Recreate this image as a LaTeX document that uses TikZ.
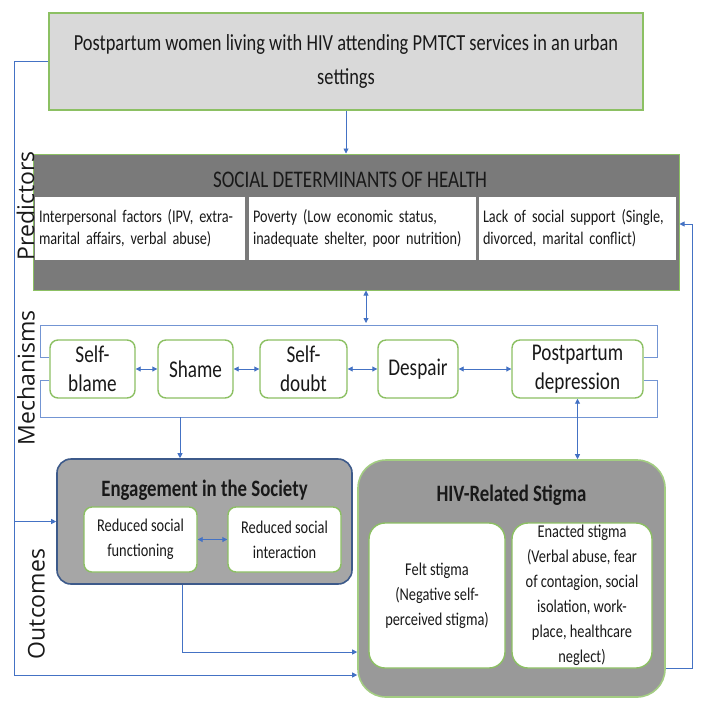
\documentclass[tikz,border=0pt]{standalone}
\usepackage{fontspec}
\setmainfont{Carlito}[FakeStretch=0.8]
\newfontfamily\sidefont{Open Sans}
\usetikzlibrary{arrows.meta}
\definecolor{leafgreen}{HTML}{8CC063}
\definecolor{linkblue}{HTML}{4472C4}
\definecolor{navyedge}{HTML}{3D5A8A}
\tikzset{
  every node/.style={inner sep=0pt, text=black!90},
  popbox/.style={draw=leafgreen, line width=1.6pt, fill=black!15, minimum width=594pt, minimum height=97pt, align=center, font=\fontsize{23}{34}\selectfont},
  sdhbox/.style={draw=leafgreen, line width=1pt, fill=black!52, minimum width=646pt, minimum height=136pt},
  factor/.style={fill=white, inner xsep=4pt, minimum height=63pt, align=left, font=\fontsize{17.8}{22}\selectfont},
  mech/.style={draw=leafgreen, line width=1.4pt, fill=white, rounded corners=8pt, minimum height=58pt, align=center, font=\fontsize{24}{29}\selectfont},
  outbox/.style={line width=1.6pt},
  subbox/.style={draw=leafgreen, line width=1.4pt, fill=white, align=center, font=\fontsize{18}{25}\selectfont},
  heading/.style={font=\bfseries\fontsize{23.5}{28}\selectfont},
  sidelabel/.style={rotate=90, font=\sidefont\fontsize{23}{23}\selectfont},
  link/.style={draw=linkblue, line width=0.9pt, ->},
  dlink/.style={draw=linkblue, line width=0.9pt, <->},
  rail/.style={draw=linkblue!75, line width=0.9pt}
}
\begin{document}
\begin{tikzpicture}[x=1pt, y=-1pt, >={Triangle[length=5pt, width=5pt]}]
  \useasboundingbox (0,0) rectangle (708,705);
  \node[popbox] (pop) at (346,61.5) {Postpartum women living with HIV attending PMTCT services in an urban\\settings};
  \node[sdhbox] (sdh) at (356,222) {};
  \node[font=\fontsize{23.8}{28}\selectfont] (sdhtitle) at (350,179.5) {SOCIAL DETERMINANTS OF HEALTH};
  \node[factor, text width=202pt] (ipf) at (140,228.5) {Interpersonal factors (IPV, extra-\\marital affairs, verbal abuse)};
  \node[factor, text width=219pt] (pov) at (362.5,228.5) {Poverty (Low economic status,\\inadequate shelter, poor nutrition)};
  \node[factor, text width=189pt] (lss) at (577.5,228.5) {Lack of social support (Single,\\divorced, marital conflict)};
  \node[sidelabel] (pred) at (25.5,206) {Predictors};
  \node[sidelabel] (mechs) at (26,378) {Mechanisms};
  \node[sidelabel] (outc) at (36.5,604) {Outcomes};
  \node[mech, minimum width=85pt] (sb) at (92.5,369) {Self-\\blame};
  \node[mech, minimum width=75pt] (sh) at (195.5,369) {Shame};
  \node[mech, minimum width=87pt] (sd) at (303.5,369) {Self-\\doubt};
  \node[mech, minimum width=80pt] (de) at (418,369) {Despair};
  \node[mech, minimum width=131pt] (pd) at (577.5,369) {Postpartum\\depression};
  \node[outbox, draw=navyedge, fill=black!35, rounded corners=14pt, minimum width=295pt, minimum height=125pt] (eng) at (204.5,521.5) {};
  \node[heading] (engtitle) at (204.5,490) {Engagement in the Society};
  \node[subbox, rounded corners=8pt, minimum width=113pt, minimum height=65pt] (rsf) at (140.5,539.5) {Reduced social\\functioning};
  \node[subbox, rounded corners=8pt, minimum width=113pt, minimum height=65pt] (rsi) at (284.5,539.5) {Reduced social\\interaction};
  \node[outbox, draw=leafgreen!80, fill=black!40, rounded corners=28pt, minimum width=307pt, minimum height=237pt] (stig) at (511.5,578.5) {};
  \node[heading] (stigtitle) at (511.5,495) {HIV-Related Stigma};
  \node[subbox, rounded corners=16pt, minimum width=136pt, minimum height=145pt] (felt) at (437,595.5) {Felt stigma\\(Negative self-\\perceived stigma)};
  \node[subbox, rounded corners=16pt, minimum width=140pt, minimum height=145pt] (enact) at (582,595.5) {Enacted stigma\\(Verbal abuse, fear\\of contagion, social\\isolation, work-\\place, healthcare\\neglect)};
  \coordinate (lrail) at (14,675);
  \coordinate (rrail) at (692,668);
  \coordinate (rtop) at (692,224);
  \coordinate (mtop) at (366,323);
  \coordinate (bl) at (40,325);
  \coordinate (br) at (657,325);
  \coordinate (bl2) at (40,417);
  \coordinate (br2) at (657,417);
  \coordinate (edrop) at (180,417);
  \coordinate (ebend) at (182,652);
  \begin{scope}[rail]
    \draw (sb.165) -| (bl) -- (br) |- (pd.10);
    \draw (sb.195) -| (bl2) -- (br2) |- (pd.-10);
  \end{scope}
  \begin{scope}[link]
    \draw (pop.south) -- (pop.south |- sdh.north);
    \draw (pop.west) -| (lrail) -- (lrail -| stig.west);
    \draw (lrail |- eng.west) -- (eng.west);
    \draw (eng.south -| ebend) -- (ebend) -- (ebend -| stig.west);
    \draw (rrail -| stig.east) -- (rrail) -- (rtop) -- (rtop -| sdh.east);
    \draw (edrop) -- (edrop |- eng.north);
  \end{scope}
  \begin{scope}[dlink]
    \draw (sdh.south -| mtop) -- (mtop);
    \draw (sb) -- (sh);
    \draw (sh) -- (sd);
    \draw (sd) -- (de);
    \draw (de) -- (pd);
    \draw (rsf) -- (rsi);
    \draw (pd.south) -- (pd.south |- stig.north);
  \end{scope}
\end{tikzpicture}
\end{document}
